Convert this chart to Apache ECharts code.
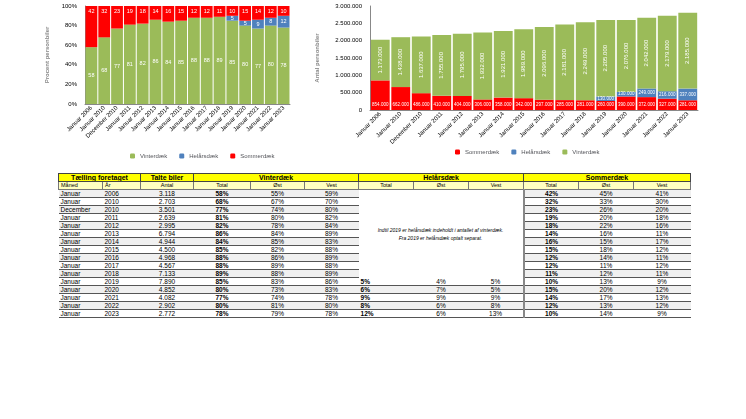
<!DOCTYPE html>
<html><head><meta charset="utf-8">
<script src="https://cdn.jsdelivr.net/npm/echarts@6/dist/echarts.min.js"></script>
<style>
body{margin:0;background:#fff;font-family:"Liberation Sans",Arial,sans-serif;}
#c1{position:absolute;left:0;top:0;width:300px;height:170px;}
#c2{position:absolute;left:300px;top:0;width:410px;height:170px;}
table{position:absolute;left:58px;top:173px;width:632px;border-collapse:collapse;font-size:6.5px;table-layout:fixed;}
td{padding:0 2px;height:7px;line-height:7px;border-bottom:1px solid #555;white-space:nowrap;overflow:hidden;}
tr.h1 td{background:#ffff00;font-weight:bold;text-align:center;font-size:7px;border:1px solid #444;height:7px;}
tr.h2 td{background:#ffffc0;font-size:5.5px;text-align:center;border:1px solid #777;}
tr.d:nth-child(odd) td{background:#f0f0f0;}
td.c{text-align:center;} td.b{font-weight:bold;}
td.note{font-style:italic;text-align:center;font-size:5px;line-height:8px;background:#fff!important;white-space:normal;border-bottom:none;}
td.l{border-left:2px solid #888;}
</style></head><body>
<div id="c1"></div><div id="c2"></div>
<table id="t"></table>
<script>
const categories = ['Januar 2006','Januar 2010','December 2010','Januar 2011','Januar 2012','Januar 2013','Januar 2014','Januar 2015','Januar 2016','Januar 2017','Januar 2018','Januar 2019','Januar 2020','Januar 2021','Januar 2022','Januar 2023'];
const winterPct = [58,68,77,81,82,86,84,85,88,88,89,85,80,77,80,78];
const allPct = [null,null,null,null,null,null,null,null,null,null,null,5,5,9,8,12];
const summerPct = [42,32,23,19,18,14,16,15,12,12,11,10,15,14,12,10];
const summerCnt = [854000,662000,486000,410000,404000,306000,358000,342000,297000,285000,281000,260000,390000,372000,327000,281000];
const allCnt = [null,null,null,null,null,null,null,null,null,null,null,130000,130000,249000,216000,337000];
const winterCnt = [1173000,1438000,1637000,1755000,1795000,1932000,1921000,1989000,2096000,2181000,2249000,2205000,2076000,2042000,2179000,2185000];
const months = ['Januar','Januar','December','Januar','Januar','Januar','Januar','Januar','Januar','Januar','Januar','Januar','Januar','Januar','Januar','Januar'];
const years = ['2006','2010','2010','2011','2012','2013','2014','2015','2016','2017','2018','2019','2020','2021','2022','2023'];
const counted = ['3.118','2.703','3.501','2.639','2.995','6.794','4.944','4.500','4.968','4.567','7.133','7.890','4.852','4.082','2.902','2.772'];
const vT=['58%','68%','77%','81%','82%','86%','84%','85%','88%','88%','89%','85%','80%','77%','80%','78%'];
const vO=['55%','67%','74%','80%','78%','84%','85%','82%','86%','89%','88%','83%','73%','74%','81%','79%'];
const vV=['59%','70%','80%','82%','84%','89%','83%','88%','89%','88%','89%','86%','83%','78%','80%','78%'];
const hT=['5%','6%','9%','8%','12%'], hO=['4%','7%','9%','6%','6%'], hV=['5%','5%','9%','8%','13%'];
const sT=['42%','32%','23%','19%','18%','14%','16%','15%','12%','12%','11%','10%','15%','14%','12%','10%'];
const sO=['45%','33%','26%','20%','22%','16%','15%','18%','14%','11%','12%','13%','20%','17%','13%','14%'];
const sV=['41%','30%','20%','18%','16%','11%','17%','12%','11%','12%','11%','9%','12%','13%','12%','9%'];

const G='#9bbb59',B='#4f81bd',R='#ff0000';
const fmt = v => v.toLocaleString('de-DE');
const xAx = {type:'category',data:categories,axisTick:{show:false},axisLine:{lineStyle:{color:'#888'}},
  axisLabel:{rotate:45,fontSize:6,color:'#000',interval:0,margin:3}};
function lbl(extra){return Object.assign({show:true,color:'#fff',fontSize:5.5},extra);}

const c1 = echarts.init(document.getElementById('c1'));
c1.setOption({
  animation:false,
  grid:{left:85,right:10,top:6,bottom:66},
  legend:{bottom:6,left:125,itemWidth:5,itemHeight:5,itemGap:12,textStyle:{fontSize:6},data:['Vinterdæk','Helårsdæk','Sommerdæk']},
  xAxis:xAx,
  yAxis:{type:'value',min:0,max:100,interval:20,axisLabel:{formatter:'{value}%',fontSize:6,color:'#000'},
    axisLine:{show:true,lineStyle:{color:'#888'}},splitLine:{show:false},
    name:'Procent personbiler',nameLocation:'middle',nameGap:22,nameTextStyle:{fontSize:6,fontWeight:'bold'}},
  series:[
    {name:'Vinterdæk',type:'bar',stack:'a',data:winterPct,itemStyle:{color:G},barCategoryGap:'8%',label:lbl({position:'inside'})},
    {name:'Helårsdæk',type:'bar',stack:'a',data:allPct,itemStyle:{color:B},label:lbl({position:'inside'})},
    {name:'Sommerdæk',type:'bar',stack:'a',data:summerPct,itemStyle:{color:R},label:lbl({position:'insideTop',distance:2})}
  ]
});

const c2 = echarts.init(document.getElementById('c2'));
c2.setOption({
  animation:false,
  grid:{left:70,right:12,top:6,bottom:60},
  legend:{bottom:10,left:150,itemWidth:5,itemHeight:5,itemGap:12,textStyle:{fontSize:6},data:['Sommerdæk','Helårsdæk','Vinterdæk']},
  xAxis:xAx,
  yAxis:{type:'value',min:0,max:3000000,interval:500000,axisLabel:{formatter:v=>fmt(v),fontSize:6,color:'#000'},
    axisLine:{show:true,lineStyle:{color:'#888'}},splitLine:{show:false},
    name:'Antal personbiler',nameLocation:'middle',nameGap:50,nameTextStyle:{fontSize:6,fontWeight:'bold'}},
  series:[
    {name:'Sommerdæk',type:'bar',stack:'a',data:summerCnt,itemStyle:{color:R},barCategoryGap:'8%',label:lbl({position:'insideBottom',distance:3,fontSize:4.5,formatter:p=>fmt(p.value)})},
    {name:'Helårsdæk',type:'bar',stack:'a',data:allCnt,itemStyle:{color:B},label:lbl({position:'inside',fontSize:4.5,formatter:p=>fmt(p.value)})},
    {name:'Vinterdæk',type:'bar',stack:'a',data:winterCnt,itemStyle:{color:G},label:lbl({position:'inside',rotate:90,fontSize:6,formatter:p=>fmt(p.value)})}
  ]
});

const widths=[44,38,53,57,54,54,55,55,55,55,55,57];
let h='<colgroup>'+widths.map(w=>'<col style="width:'+w+'px">').join('')+'</colgroup>';
h+='<tr class="h1"><td colspan="2">Tælling foretaget</td><td>Talte biler</td><td colspan="3">Vinterdæk</td><td colspan="3">Helårsdæk</td><td colspan="3">Sommerdæk</td></tr>';
h+='<tr class="h2"><td style="text-align:left">Måned</td><td style="text-align:left">År</td><td>Antal</td><td>Total</td><td>Øst</td><td>Vest</td><td>Total</td><td>Øst</td><td>Vest</td><td>Total</td><td>Øst</td><td>Vest</td></tr>';
for(let i=0;i<categories.length;i++){
  h+='<tr class="d"><td>'+months[i]+'</td><td>'+years[i]+'</td><td class="c">'+counted[i]+'</td><td class="c b">'+vT[i]+'</td><td class="c">'+vO[i]+'</td><td class="c">'+vV[i]+'</td>';
  if(i===0) h+='<td colspan="3" rowspan="11" class="note">Indtil 2019 er helårsdæk indeholdt i antallet af vinterdæk.<br>Fra 2019 er helårsdæk optalt separat.</td>';
  else if(i>=11){const k=i-11;h+='<td class="b">'+hT[k]+'</td><td class="c">'+hO[k]+'</td><td class="c">'+hV[k]+'</td>';}
  h+='<td class="c b l">'+sT[i]+'</td><td class="c">'+sO[i]+'</td><td class="c">'+sV[i]+'</td></tr>';
}
document.getElementById('t').innerHTML=h;
</script></body></html>
